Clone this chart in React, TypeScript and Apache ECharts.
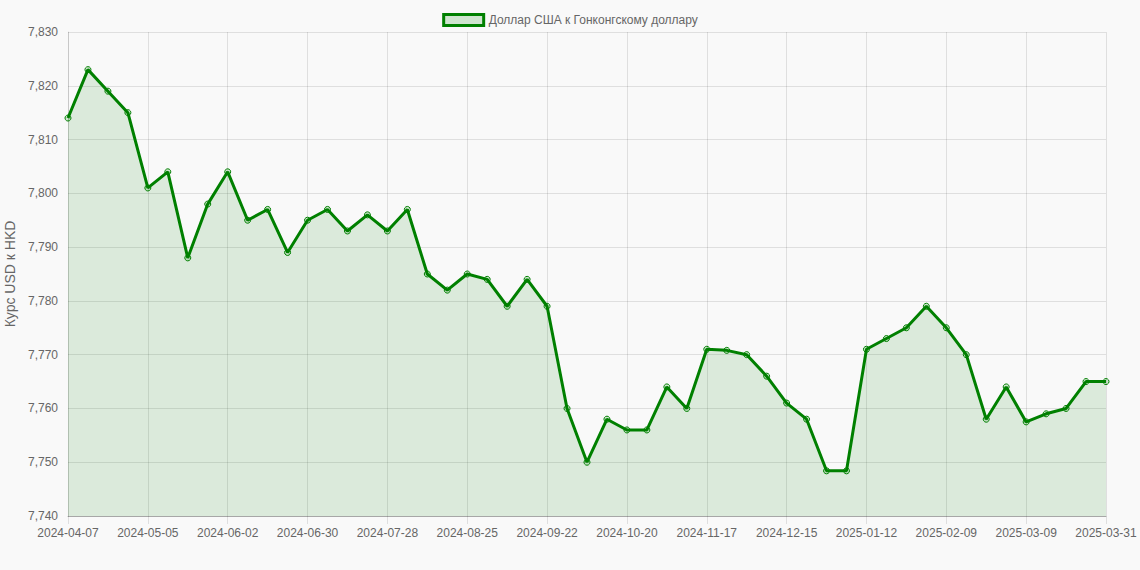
import { useEffect, useRef } from "react";
import * as echarts from "echarts";

// weekly dates (last one is the closing day of the period)
const dates = [
  "2024-04-07", "2024-04-14", "2024-04-21", "2024-04-28",
  "2024-05-05", "2024-05-12", "2024-05-19", "2024-05-26",
  "2024-06-02", "2024-06-09", "2024-06-16", "2024-06-23",
  "2024-06-30", "2024-07-07", "2024-07-14", "2024-07-21",
  "2024-07-28", "2024-08-04", "2024-08-11", "2024-08-18",
  "2024-08-25", "2024-09-01", "2024-09-08", "2024-09-15",
  "2024-09-22", "2024-09-29", "2024-10-06", "2024-10-13",
  "2024-10-20", "2024-10-27", "2024-11-03", "2024-11-10",
  "2024-11-17", "2024-11-24", "2024-12-01", "2024-12-08",
  "2024-12-15", "2024-12-22", "2024-12-29", "2025-01-05",
  "2025-01-12", "2025-01-19", "2025-01-26", "2025-02-02",
  "2025-02-09", "2025-02-16", "2025-02-23", "2025-03-02",
  "2025-03-09", "2025-03-16", "2025-03-23", "2025-03-30",
  "2025-03-31",
];

// курс USD к HKD
const rates = [
  7.814, 7.823, 7.819, 7.815,
  7.801, 7.804, 7.788, 7.798,
  7.804, 7.795, 7.797, 7.789,
  7.795, 7.797, 7.793, 7.796,
  7.793, 7.797, 7.785, 7.782,
  7.785, 7.784, 7.779, 7.784,
  7.779, 7.760, 7.750, 7.758,
  7.756, 7.756, 7.764, 7.760,
  7.771, 7.7708, 7.770, 7.766,
  7.761, 7.758, 7.7484, 7.7484,
  7.771, 7.773, 7.775, 7.779,
  7.775, 7.770, 7.758, 7.764,
  7.7575, 7.759, 7.760, 7.765,
  7.765,
];

const seriesName = "Доллар США к Гонконгскому доллару";
const axisTitle = "Курс USD к HKD";

const GREEN = "#008000";
const GRID = "rgba(0,0,0,0.1)";
const TEXT = "#666";
const FONT = "Arial, 'Liberation Sans', Helvetica, sans-serif";

export default function App() {
  const chartRef = useRef<HTMLDivElement>(null);

  useEffect(() => {
    document.body.style.margin = "0";
    if (!chartRef.current) return;

    const chart = echarts.init(chartRef.current, undefined, { renderer: "svg" });
    chart.setOption({
      animation: false,
      backgroundColor: "#f9f9f9",
      textStyle: { fontFamily: FONT },
      legend: {
        top: 8,
        left: "center",
        icon: "rect",
        itemWidth: 40,
        itemHeight: 11,
        itemGap: 10,
        itemStyle: {
          color: "rgba(0,128,0,0.17)",
          borderColor: GREEN,
          borderWidth: 3,
        },
        textStyle: { color: TEXT, fontSize: 12, fontFamily: FONT },
        data: [seriesName],
      },
      grid: {
        left: 68,
        right: 34,
        top: 32,
        bottom: 54,
        containLabel: false,
        outerBoundsMode: "none",
      },
      xAxis: {
        type: "category",
        boundaryGap: false,
        data: dates,
        axisLine: { lineStyle: { color: "rgba(0,0,0,0.25)" } },
        axisTick: { show: true, interval: 3, length: 8, lineStyle: { color: GRID } },
        axisLabel: {
          interval: 3,
          color: TEXT,
          fontSize: 12,
          fontFamily: FONT,
          margin: 11,
        },
        splitLine: { show: true, interval: 3, lineStyle: { color: GRID } },
      },
      yAxis: {
        type: "value",
        min: 7.74,
        max: 7.83,
        interval: 0.01,
        name: axisTitle,
        nameLocation: "middle",
        nameGap: 49,
        nameRotate: 90,
        nameTextStyle: { color: TEXT, fontSize: 14, fontFamily: FONT },
        axisLine: { show: true, lineStyle: { color: GRID } },
        axisTick: { show: false },
        axisLabel: {
          color: TEXT,
          fontSize: 12,
          fontFamily: FONT,
          margin: 10,
          formatter: (v: number) => v.toFixed(3).replace(".", ","),
        },
        splitLine: { show: true, lineStyle: { color: GRID } },
      },
      series: [
        {
          name: seriesName,
          type: "line",
          data: rates,
          symbol: "circle",
          symbolSize: 6,
          showAllSymbol: true,
          lineStyle: { color: GREEN, width: 3 },
          itemStyle: {
            color: "rgba(0,128,0,0.17)",
            borderColor: GREEN,
            borderWidth: 1,
          },
          areaStyle: { color: "rgba(0,128,0,0.17)" },
        },
      ],
    });

    return () => {
      chart.dispose();
    };
  }, []);

  return <div ref={chartRef} style={{ width: 1140, height: 570 }} />;
}
